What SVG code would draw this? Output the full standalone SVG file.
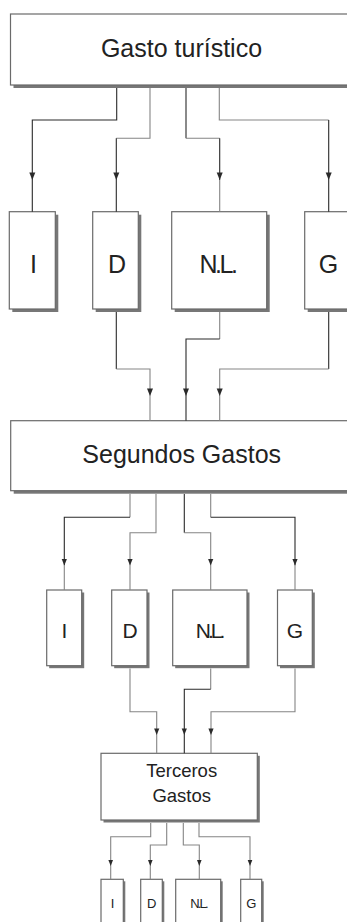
<svg xmlns="http://www.w3.org/2000/svg" width="347" height="922" viewBox="0 0 347 922">
<style>
.box{fill:#fff;stroke:#6a6a6a;stroke-width:1.2}
.sh{fill:#777}
.t{font-family:"Liberation Sans",Arial,sans-serif;fill:#222;text-anchor:middle}
.dk{fill:none;stroke:#2a2a2a;stroke-width:1.1}
.gy{fill:none;stroke:#858585;stroke-width:1.1}
.ah{fill:#2a2a2a}
</style>
<defs>
<path id="a" d="M-3,-7.5 L3,-7.5 L0,0 Z"/>
<path id="b" d="M-2.6,-6.5 L2.6,-6.5 L0,0 Z"/>
<path id="c" d="M-2.3,-6 L2.3,-6 L0,0 Z"/>
</defs>
<rect x="0" y="0" width="347" height="922" fill="#fff"/>

<g id="gasto">
<rect class="sh" x="13.5" y="17" width="342" height="71"/>
<rect class="box" x="10.5" y="14" width="342" height="71" stroke="#444"/>
<text class="t" x="181.5" y="56.5" font-size="25">Gasto turístico</text>
</g>

<g id="r1-i"><rect class="sh" x="12.3" y="214.7" width="46" height="97.3"/><rect class="box" x="9.3" y="211.7" width="46" height="97.3"/><text class="t" x="33.5" y="272.5" font-size="25">I</text></g>
<g id="r1-d"><rect class="sh" x="95.7" y="214.7" width="45.6" height="97.3"/><rect class="box" x="92.7" y="211.7" width="45.6" height="97.3"/><text class="t" x="117" y="272.5" font-size="25">D</text></g>
<g id="r1-nl"><rect class="sh" x="174.7" y="214.7" width="95" height="97.3"/><rect class="box" x="171.7" y="211.7" width="95" height="97.3"/><text class="t" x="217.5" y="272.5" font-size="25" letter-spacing="-2.5">N.L.</text></g>
<g id="r1-g"><rect class="sh" x="307.7" y="214.7" width="48" height="97.3"/><rect class="box" x="304.7" y="211.7" width="48" height="97.3"/><text class="t" x="328.5" y="272.5" font-size="25">G</text></g>

<g id="segundos">
<rect class="sh" x="13.7" y="423.7" width="342" height="70"/>
<rect class="box" x="10.7" y="420.7" width="342" height="70" stroke="#444"/>
<text class="t" x="181.7" y="463.3" font-size="25">Segundos Gastos</text>
</g>

<g id="r2-i"><rect class="sh" x="49.2" y="592.5" width="35" height="75.7"/><rect class="box" x="46.7" y="590" width="35" height="75.7"/><text class="t" x="64.5" y="638.3" font-size="21">I</text></g>
<g id="r2-d"><rect class="sh" x="114.2" y="592.5" width="35.3" height="75.7"/><rect class="box" x="111.7" y="590" width="35.3" height="75.7"/><text class="t" x="130" y="638.3" font-size="21">D</text></g>
<g id="r2-nl"><rect class="sh" x="175.2" y="592.5" width="74.3" height="75.7"/><rect class="box" x="172.7" y="590" width="74.3" height="75.7"/><text class="t" x="209" y="638.3" font-size="21" letter-spacing="-3">N.L.</text></g>
<g id="r2-g"><rect class="sh" x="280" y="592.5" width="34.8" height="75.7"/><rect class="box" x="277.5" y="590" width="34.8" height="75.7"/><text class="t" x="295" y="638.3" font-size="21">G</text></g>

<g id="terceros">
<rect class="sh" x="103.5" y="755.8" width="156.3" height="66.7"/>
<rect class="box" x="101" y="753.3" width="156.3" height="66.7" stroke="#555"/>
<text class="t" x="181.7" y="777.3" font-size="18.5">Terceros</text>
<text class="t" x="181.7" y="801.7" font-size="18.5">Gastos</text>
</g>

<g id="r3-i"><rect class="sh" x="103" y="881.3" width="22.3" height="50"/><rect class="box" x="101" y="879.3" width="22.3" height="50" stroke="#888"/><text class="t" x="112.5" y="908" font-size="13">I</text></g>
<g id="r3-d"><rect class="sh" x="142.7" y="881.3" width="21.6" height="50"/><rect class="box" x="140.7" y="879.3" width="21.6" height="50" stroke="#888"/><text class="t" x="151.8" y="908" font-size="13">D</text></g>
<g id="r3-nl"><rect class="sh" x="177.7" y="881.3" width="45" height="50"/><rect class="box" x="175.7" y="879.3" width="45" height="50" stroke="#888"/><text class="t" x="198.5" y="908" font-size="13" letter-spacing="-1.8">N.L.</text></g>
<g id="r3-g"><rect class="sh" x="242.7" y="881.3" width="21" height="50"/><rect class="box" x="240.7" y="879.3" width="21" height="50" stroke="#888"/><text class="t" x="251.3" y="908" font-size="13">G</text></g>

<g id="connectors">
<path class="dk" d="M116.7 88 V120 H32.3 V211.7"/>
<path class="gy" d="M150 88 V138.3 H116.3"/><path class="dk" d="M116.3 138.3 V211.7"/>
<path class="dk" d="M186 88 V138.3"/><path class="gy" d="M186 138.3 H219.7"/><path class="dk" d="M219.7 138.3 V180"/><path class="gy" d="M219.7 180 V211.7"/>
<path class="gy" d="M219.3 88 V120 H328.7"/><path class="dk" d="M328.7 120 V211.7"/>
<use href="#a" class="ah" x="32.3" y="180"/>
<use href="#a" class="ah" x="116.3" y="180"/>
<use href="#a" class="ah" x="219.7" y="180"/>
<use href="#a" class="ah" x="328.7" y="180"/>

<path class="dk" d="M116.3 312 V369"/><path class="gy" d="M116.3 369 H150 V420.7"/>
<path class="gy" d="M219.7 312 V339"/><path class="dk" d="M219.7 339 H186 V420.7"/>
<path class="dk" d="M328.7 312 V369"/><path class="gy" d="M328.7 369 H219.7 V420.7"/>
<use href="#a" class="ah" x="150" y="396"/>
<use href="#a" class="ah" x="186" y="396"/>
<use href="#a" class="ah" x="219.7" y="396"/>

<path class="gy" d="M130 494 V517.3"/><path class="dk" d="M130 517.3 H64.3 V565.5"/><path class="gy" d="M64.3 565.5 V590"/>
<path class="gy" d="M156 494 V532.7 H130 V590"/>
<path class="dk" d="M184.3 494 V532.7"/><path class="gy" d="M184.3 532.7 H210.7 V590"/>
<path class="gy" d="M210.7 494 V517.3"/><path class="dk" d="M210.7 517.3 H295 V565.5"/><path class="gy" d="M295 565.5 V590"/>
<use href="#b" class="ah" x="64.3" y="565.5"/>
<use href="#b" class="ah" x="130" y="565.5"/>
<use href="#b" class="ah" x="210.7" y="565.5"/>
<use href="#b" class="ah" x="295" y="565.5"/>

<path class="gy" d="M130 668.5 V711.7 H156.7 V753.3"/>
<path class="gy" d="M210.7 668.5 V689.3"/><path class="dk" d="M210.7 689.3 H184.3 V753.3"/>
<path class="gy" d="M295 668.5 V711.7 H211 V753.3"/>
<use href="#b" class="ah" x="156.7" y="735"/>
<use href="#b" class="ah" x="184.3" y="735"/>
<use href="#b" class="ah" x="211" y="735"/>

<path class="gy" d="M150.7 823 V836.7 H110.7 V879.3"/>
<path class="gy" d="M166.7 823 V845 H150.3 V879.3"/>
<path class="gy" d="M183.3 823 V845 H199.3 V879.3"/>
<path class="gy" d="M199 823 V836.7 H250 V879.3"/>
<use href="#c" class="ah" x="110.7" y="866"/>
<use href="#c" class="ah" x="150.3" y="866"/>
<use href="#c" class="ah" x="199.3" y="866"/>
<use href="#c" class="ah" x="250" y="866"/>
</g>
</svg>
